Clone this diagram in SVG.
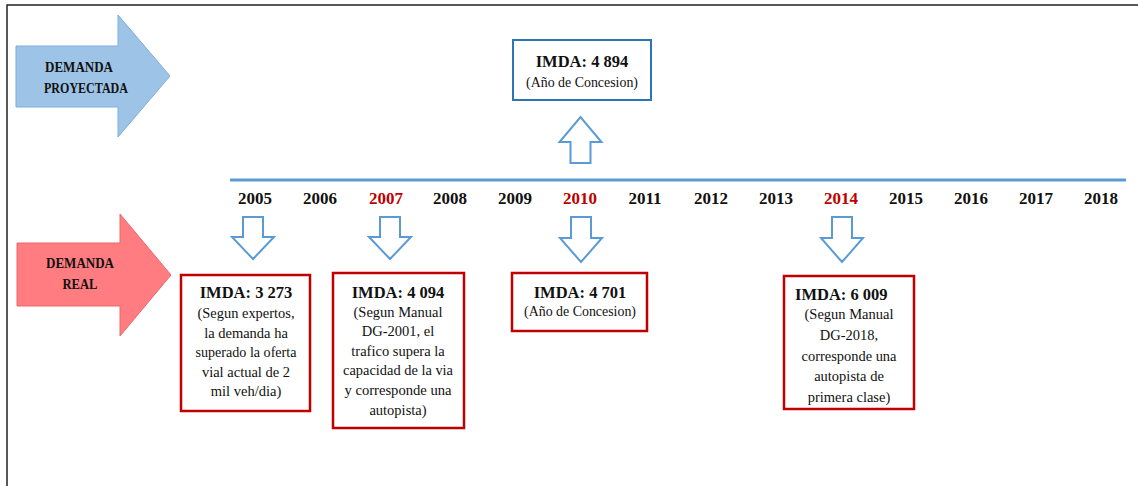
<svg xmlns="http://www.w3.org/2000/svg" width="1138" height="486" viewBox="0 0 1138 486">
<style>
  text { font-family: "Liberation Serif", "Times New Roman", serif; fill: #111; }
  .lbl { font-size: 14.5px; font-weight: bold; text-anchor: middle; }
  .yr { font-size: 17px; font-weight: bold; text-anchor: middle; }
  .yr.red { fill: #C00000; }
  .hd { font-size: 16.5px; font-weight: bold; text-anchor: middle; }
  .bd { font-size: 14.5px; text-anchor: middle; }
  .rbox { fill: #fff; stroke: #C00000; stroke-width: 2.5; }
  .bbox { fill: #fff; stroke: #2E75B6; stroke-width: 2; }
  .hollow { fill: #fff; stroke: #5B9BD5; stroke-width: 2; stroke-linejoin: miter; }
</style>
<rect x="0" y="0" width="1138" height="486" fill="#fff"/>
<g id="frame">
  <path d="M7,486 V5 H1138" fill="none" stroke="#222" stroke-width="1.5"/>
</g>
<g id="demanda-proyectada">
  <polygon points="16,46 118,46 118,15 170,76 118,137 118,107 16,107" fill="#9DC3E6" stroke="#7FAEDB" stroke-width="1"/>
  <text class="lbl" x="79" y="72" textLength="68" lengthAdjust="spacingAndGlyphs">DEMANDA</text>
  <text class="lbl" x="86" y="93" textLength="84" lengthAdjust="spacingAndGlyphs">PROYECTADA</text>
</g>
<g id="demanda-real">
  <polygon points="17,243 120,243 120,214 171,275 120,336 120,306 17,306" fill="#FF7C80" stroke="#E8686C" stroke-width="1"/>
  <text class="lbl" x="80" y="268" textLength="68" lengthAdjust="spacingAndGlyphs">DEMANDA</text>
  <text class="lbl" x="80" y="289" textLength="35" lengthAdjust="spacingAndGlyphs">REAL</text>
</g>
<g id="timeline">
  <line x1="230" y1="180" x2="1126" y2="180" stroke="#5B9BD5" stroke-width="3"/>
  <text class="yr" x="255" y="204">2005</text>
  <text class="yr" x="320" y="204">2006</text>
  <text class="yr red" x="386" y="204">2007</text>
  <text class="yr" x="450" y="204">2008</text>
  <text class="yr" x="515" y="204">2009</text>
  <text class="yr red" x="580" y="204">2010</text>
  <text class="yr" x="645" y="204">2011</text>
  <text class="yr" x="711" y="204">2012</text>
  <text class="yr" x="776" y="204">2013</text>
  <text class="yr red" x="841" y="204">2014</text>
  <text class="yr" x="906" y="204">2015</text>
  <text class="yr" x="971" y="204">2016</text>
  <text class="yr" x="1036" y="204">2017</text>
  <text class="yr" x="1101" y="204">2018</text>
</g>
<g id="connectors">
  <polygon class="hollow" points="570.5,163 570.5,142 559.5,142 580.5,117 601.5,142 590.5,142 590.5,163"/>
  <polygon class="hollow" points="243,217 263,217 263,237 274,237 253,259 232,237 243,237"/>
  <polygon class="hollow" points="380,217 400,217 400,237 411,237 390,259 369,237 380,237"/>
  <polygon class="hollow" points="571,217 591,217 591,238 602,238 581,262 560,238 571,238"/>
  <polygon class="hollow" points="832,217 852,217 852,238 863,238 842,262 821,238 832,238"/>
</g>
<g id="box-4894">
  <rect class="bbox" x="513" y="40" width="138" height="60"/>
  <text class="hd" x="582" y="67">IMDA: 4 894</text>
  <text class="bd" x="582" y="87" textLength="112" lengthAdjust="spacingAndGlyphs">(Año de Concesion)</text>
</g>
<g id="box-3273">
  <rect class="rbox" x="181" y="275" width="129" height="136"/>
  <text class="hd" x="246" y="298">IMDA: 3 273</text>
  <text class="bd" x="246" y="318" textLength="97" lengthAdjust="spacingAndGlyphs">(Segun expertos,</text>
  <text class="bd" x="246" y="338">la  demanda ha</text>
  <text class="bd" x="246" y="357" textLength="101" lengthAdjust="spacingAndGlyphs">superado la oferta</text>
  <text class="bd" x="246" y="377">vial actual  de 2</text>
  <text class="bd" x="246" y="396">mil  veh/dia)</text>
</g>
<g id="box-4094">
  <rect class="rbox" x="333" y="273" width="131" height="155"/>
  <text class="hd" x="398" y="298">IMDA: 4 094</text>
  <text class="bd" x="398" y="317">(Segun Manual</text>
  <text class="bd" x="398" y="336">DG-2001,   el</text>
  <text class="bd" x="398" y="356">trafico  supera la</text>
  <text class="bd" x="398" y="375" textLength="110" lengthAdjust="spacingAndGlyphs">capacidad de la via</text>
  <text class="bd" x="398" y="395" textLength="107" lengthAdjust="spacingAndGlyphs">y corresponde una</text>
  <text class="bd" x="398" y="415">autopista)</text>
</g>
<g id="box-4701">
  <rect class="rbox" x="512" y="273" width="135" height="58"/>
  <text class="hd" x="580" y="298">IMDA: 4 701</text>
  <text class="bd" x="580" y="316" textLength="112" lengthAdjust="spacingAndGlyphs">(Año de Concesion)</text>
</g>
<g id="box-6009">
  <rect class="rbox" x="784" y="276" width="130" height="133"/>
  <text class="hd" x="795" y="300" style="text-anchor:start">IMDA: 6 009</text>
  <text class="bd" x="849" y="319">(Segun Manual</text>
  <text class="bd" x="849" y="340">DG-2018,</text>
  <text class="bd" x="849" y="361" textLength="95" lengthAdjust="spacingAndGlyphs">corresponde una</text>
  <text class="bd" x="849" y="381">autopista de</text>
  <text class="bd" x="849" y="402">primera  clase)</text>
</g>
</svg>
